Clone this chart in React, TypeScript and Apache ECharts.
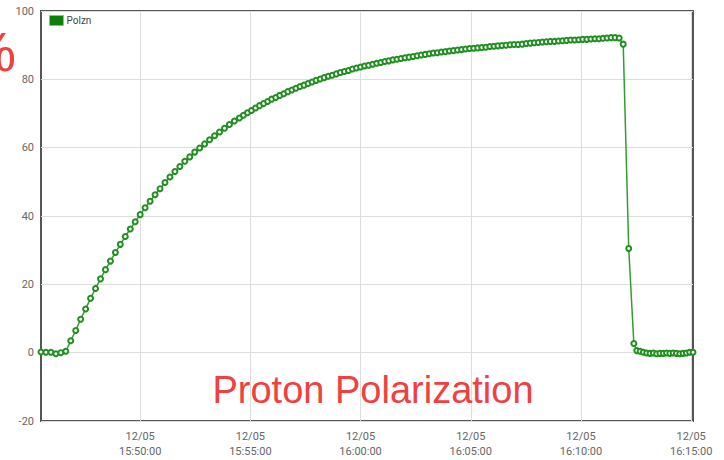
import React, { useEffect, useRef } from "react";
import * as echarts from "echarts";

// Time base: 12/05 15:45:30 (seconds offsets below)
const BASE_TIME = new Date(2014, 11, 5, 15, 45, 30).getTime();

// Rise segment: 13.5 s sampling from t = 0 s
const riseStart = 0;
const riseStep = 13.5;
const riseValues = [
  0.2, 0.1, 0.1, -0.3, 0.0, 0.4, 3.5, 6.5, 9.8, 12.8, 15.9, 18.8, 21.6, 24.3,
  26.8, 29.3, 31.7, 34.0, 36.2, 38.3, 40.4, 42.4, 44.3, 46.2, 48.0, 49.8,
  51.4, 53.0, 54.5, 56.0, 57.3, 58.7, 59.9, 61.1, 62.3, 63.5, 64.6, 65.7,
  66.8, 67.8, 68.7,
];

// Plateau segment: 11 s sampling from t = 551 s
const plateauStart = 551;
const plateauStep = 11;
const plateauValues = [
  69.5, 70.2, 70.9, 71.6, 72.3, 72.9, 73.5, 74.2, 74.7, 75.3,
  75.8, 76.4, 76.9, 77.4, 77.9, 78.3, 78.8, 79.2, 79.7, 80.1,
  80.5, 80.9, 81.2, 81.6, 82.0, 82.3, 82.6, 83.0, 83.3, 83.6,
  83.9, 84.1, 84.4, 84.7, 84.9, 85.2, 85.4, 85.7, 85.9, 86.1,
  86.3, 86.5, 86.7, 86.9, 87.1, 87.3, 87.5, 87.7, 87.8, 88.0,
  88.1, 88.3, 88.4, 88.6, 88.7, 88.9, 89.0, 89.1, 89.2, 89.3,
  89.4, 89.6, 89.7, 89.8, 89.9, 90.0, 90.1, 90.2, 90.2, 90.3,
  90.5, 90.6, 90.7, 90.8, 90.9, 91.0, 91.1, 91.1, 91.2, 91.3,
  91.4, 91.5, 91.5, 91.6, 91.7, 91.7, 91.8, 91.9, 91.9, 92.0,
  92.1, 92.2, 92.2, 92.1, 90.3,
];

// Drop points
const dropTimes = [1600, 1614];
const dropValues = [30.5, 2.7];

// Tail segment: 9 s sampling from t = 1622 s
const tailStart = 1622;
const tailStep = 9;
const tailValues = [
  0.6, 0.4, 0.1, -0.1, -0.2, -0.1, -0.3, -0.2, -0.2, -0.1, -0.2, -0.1, -0.2,
  -0.3, -0.2, -0.1, 0.1, 0.1,
];

// X tick marks (clock times on 12/05)
const xTickTimes = ["15:50:00", "15:55:00", "16:00:00", "16:05:00", "16:10:00", "16:15:00"];

const yTicks = { min: -20, max: 100, interval: 20 };
const seriesName = "Polzn";
const titleText = "Proton Polarization";

function buildData(): [number, number][] {
  const out: [number, number][] = [];
  riseValues.forEach((v, i) => out.push([BASE_TIME + (riseStart + i * riseStep) * 1000, v]));
  plateauValues.forEach((v, i) => out.push([BASE_TIME + (plateauStart + i * plateauStep) * 1000, v]));
  dropValues.forEach((v, i) => out.push([BASE_TIME + dropTimes[i] * 1000, v]));
  tailValues.forEach((v, i) => out.push([BASE_TIME + (tailStart + i * tailStep) * 1000, v]));
  return out;
}

function clockToMs(s: string): number {
  const [h, m, sec] = s.split(":").map(Number);
  return new Date(2014, 11, 5, h, m, sec).getTime();
}

const pad = (n: number) => (n < 10 ? "0" + n : "" + n);

export default function App() {
  const ref = useRef<HTMLDivElement>(null);
  useEffect(() => {
    if (!ref.current) return;
    const chart = echarts.init(ref.current, undefined, { renderer: "svg" });
    const data = buildData();
    const xMin = data[0][0];
    const xMax = data[data.length - 1][0];
    const ticks = xTickTimes.map(clockToMs);
    chart.setOption({
      animation: false,
      backgroundColor: "#ffffff",
      textStyle: { fontFamily: "Roboto, 'Liberation Sans', sans-serif" },
      grid: {
        left: 41,
        right: 31,
        top: 11,
        bottom: 39,
        show: true,
        borderColor: "#555555",
        borderWidth: 2,
        backgroundColor: "transparent",
        outerBoundsMode: "none",
      },
      legend: {
        left: 49,
        top: 15,
        icon: "rect",
        itemWidth: 14,
        itemHeight: 10,
        itemGap: 4,
        padding: 0,
        data: [seriesName],
        itemStyle: { color: "#0a800a", borderColor: "#7ccc7c", borderWidth: 1 },
        textStyle: { fontSize: 10, color: "#444", padding: [0, 0, 0, -2] },
      },
      xAxis: {
        type: "value",
        min: xMin,
        max: xMax,
        axisLine: { show: false },
        axisTick: { show: false, customValues: ticks },
        splitLine: { show: true, lineStyle: { color: "#dddddd", width: 1 } },
        axisLabel: {
          customValues: ticks,
          color: "#666",
          fontSize: 11,
          lineHeight: 15,
          margin: 8,
          hideOverlap: false,
          formatter: (value: number) => {
            const d = new Date(value);
            return (
              pad(d.getMonth() + 1) + "/" + pad(d.getDate()) + "\n" +
              pad(d.getHours()) + ":" + pad(d.getMinutes()) + ":" + pad(d.getSeconds())
            );
          },
        },
      },
      yAxis: {
        type: "value",
        min: yTicks.min,
        max: yTicks.max,
        interval: yTicks.interval,
        axisLine: { show: false },
        axisTick: { show: false },
        splitLine: { show: true, lineStyle: { color: "#dddddd", width: 1 } },
        axisLabel: { color: "#666", fontSize: 11, margin: 7 },
      },
      series: [
        {
          name: seriesName,
          type: "line",
          data,
          symbol: "emptyCircle",
          symbolSize: 5,
          showAllSymbol: true,
          lineStyle: { color: "#2f9e2f", width: 1.5 },
          itemStyle: { color: "#1f8f1f", borderColor: "#1f8f1f", borderWidth: 2 },
        },
      ],
      graphic: [
        {
          type: "text",
          x: 16,
          y: 79,
          style: {
            text: "%",
            fill: "#f04040",
            font: "56px 'Liberation Sans', Arial, sans-serif",
            textAlign: "right",
            textVerticalAlign: "bottom",
          },
          z: 100,
        },
        {
          type: "text",
          x: 373,
          y: 390,
          style: {
            text: titleText,
            fill: "#f04040",
            font: "38px 'Liberation Sans', Arial, sans-serif",
            textAlign: "center",
            textVerticalAlign: "middle",
          },
          z: 100,
        },
      ],
    });
    return () => chart.dispose();
  }, []);
  return (
    <div
      ref={ref}
      style={{ position: "absolute", left: 0, top: 0, width: 724, height: 460 }}
    />
  );
}
